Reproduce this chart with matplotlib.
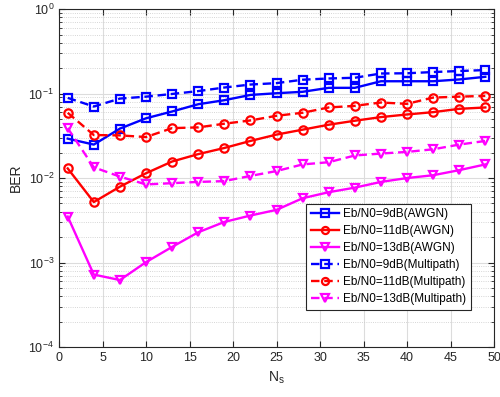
import matplotlib
matplotlib.use("Agg")
import matplotlib.pyplot as plt
import numpy as np
from matplotlib.ticker import LogLocator, NullFormatter, MultipleLocator

plt.rcParams['font.family'] = ['Liberation Sans', 'DejaVu Sans']
plt.rcParams['mathtext.fontset'] = 'custom'
plt.rcParams['mathtext.rm'] = 'Liberation Sans'

# eje x: numero de simbolos
ns = [1, 4, 7, 10, 13, 16, 19, 22, 25, 28, 31, 34, 37, 40, 43, 46, 49]

# BER canal AWGN
awgn_9 = [0.0293, 0.0249, 0.0385, 0.051, 0.0614, 0.0748, 0.0835, 0.0964, 0.101,
          0.105, 0.117, 0.117, 0.14, 0.14, 0.14, 0.147, 0.158]
awgn_11 = [0.013, 0.0052, 0.0079, 0.0114, 0.0157, 0.0192, 0.0227, 0.0275, 0.0327,
           0.0374, 0.0428, 0.0477, 0.0527, 0.0566, 0.0603, 0.066, 0.0685]
awgn_13 = [0.0035, 0.00072, 0.00062, 0.00101, 0.00153, 0.00228, 0.00302, 0.0036,
           0.0042, 0.00577, 0.0068, 0.0077, 0.009, 0.0100, 0.0108, 0.0124, 0.0145]

# BER canal multitrayecto
multi_9 = [0.089, 0.0703, 0.0873, 0.092, 0.099, 0.107, 0.118, 0.128, 0.133,
           0.146, 0.151, 0.154, 0.173, 0.174, 0.18, 0.185, 0.19]
multi_11 = [0.0593, 0.0323, 0.032, 0.0306, 0.039, 0.0398, 0.044, 0.0481, 0.0546,
            0.0593, 0.0685, 0.0716, 0.0784, 0.0756, 0.0897, 0.092, 0.094]
multi_13 = [0.039, 0.0134, 0.0104, 0.0084, 0.0087, 0.009, 0.0092, 0.0106, 0.0121,
            0.0145, 0.0154, 0.0185, 0.0195, 0.0204, 0.0219, 0.0249, 0.0275]

fig = plt.figure(figsize=(5.0, 3.97), dpi=100)
ax = fig.add_axes([0.118, 0.126, 0.870, 0.851])

estilo = dict(lw=1.7, ms=6, mew=1.6, mfc='none')
guion = dict(dashes=(3.6, 2.0))
ax.semilogy(ns, awgn_9, '-s', color='#0000ff', label='Eb/N0=9dB(AWGN)', **estilo)
ax.semilogy(ns, awgn_11, '-o', color='#ff0000', label='Eb/N0=11dB(AWGN)', **estilo)
ax.semilogy(ns, awgn_13, '-v', color='#ff00ff', label='Eb/N0=13dB(AWGN)', **estilo)
ax.semilogy(ns, multi_9, '--s', color='#0000ff', label='Eb/N0=9dB(Multipath)', **estilo, **guion)
ax.semilogy(ns, multi_11, '--o', color='#ff0000', label='Eb/N0=11dB(Multipath)', **estilo, **guion)
ax.semilogy(ns, multi_13, '--v', color='#ff00ff', label='Eb/N0=13dB(Multipath)', **estilo, **guion)

ax.set_xlim(0, 50)
ax.set_ylim(1e-4, 1)
ax.xaxis.set_major_locator(MultipleLocator(5))
ax.yaxis.set_major_locator(LogLocator(base=10, numticks=10))
ax.yaxis.set_minor_locator(LogLocator(base=10, subs=np.arange(2, 10), numticks=20))
ax.yaxis.set_minor_formatter(NullFormatter())

ax.grid(True, which='major', color='#dcdcdc', lw=0.8, ls='-')
ax.grid(True, which='minor', axis='y', color='#c8c8c8', lw=0.6, ls=':')
ax.tick_params(which='both', direction='in', top=True, right=True, labelsize=9,
               colors='#262626')
ax.tick_params(which='major', length=4)
ax.tick_params(which='minor', length=2)
for s in ax.spines.values():
    s.set_color('#262626')
    s.set_linewidth(0.8)

ax.set_xlabel('N$_\\mathrm{s}$', fontsize=10, color='#262626')
ax.set_ylabel('BER', fontsize=10, color='#262626')

leg = ax.legend(loc='lower right', fontsize=8.5, fancybox=False, framealpha=1,
                edgecolor='#262626', handlelength=2.4, handletextpad=0.35,
                borderpad=0.4, labelspacing=0.42, markerscale=0.85,
                borderaxespad=0, bbox_to_anchor=(0.947, 0.110))
leg.get_frame().set_linewidth(0.8)

fig.savefig('out.png', dpi=100)
